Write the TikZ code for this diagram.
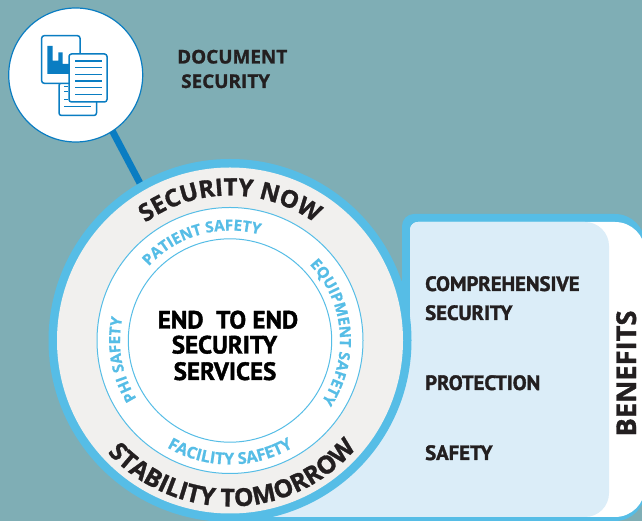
\documentclass[tikz,border=0pt]{standalone}
\usepackage{fontspec}
\setmainfont{Open Sans}
\newfontfamily\condb{PT Sans Bold}[FakeBold=1.6]
\newfontfamily\openb{Open Sans Bold}[FakeBold=1.2]
\newfontfamily\openc{Open Sans Bold}[FakeBold=0.8]
\usetikzlibrary{decorations.text}
\definecolor{bgteal}{HTML}{7FAEB5}
\definecolor{ringblue}{HTML}{56BDE6}
\definecolor{panellight}{HTML}{DBEDF8}
\definecolor{darkblue}{HTML}{0A7DC2}
\definecolor{ringgrey}{HTML}{F1F0EE}
\definecolor{inkdark}{HTML}{231F20}
\tikzset{
  x=1pt,y=1pt,
  label/.style={inner sep=0pt,anchor=base west,text=inkdark,font=\condb\fontsize{20.7}{21}\selectfont},
  heading/.style={inner sep=0pt,anchor=base west,text=inkdark,font=\openb\fontsize{18.9}{19}\selectfont},
  core/.style={inner sep=0pt,anchor=base,text=black,font=\condb\fontsize{25}{25}\selectfont},
  sheet/.style={draw=darkblue,line width=1.5pt,fill=white,rounded corners=2.5pt},
  sheetline/.style={draw=darkblue,line width=1.5pt},
  curved/.style={decorate,decoration={text along path,text align=center,text={#1}}}
}
\def\bigfont{\openb\fontsize{24}{24}\selectfont\color{inkdark}}
\def\stabfont{\openb\fontsize{24.7}{24.7}\selectfont\color{inkdark}}
\def\smallfont{\openc\fontsize{15.2}{15.2}\selectfont\color{ringblue}}
\def\facfont{\openc\fontsize{16.3}{16.3}\selectfont\color{ringblue}}
\begin{document}
\begin{tikzpicture}
\useasboundingbox (0,0) rectangle (642,521);
\fill[bgteal] (0,0) rectangle (642,521);
\coordinate (c) at (230,180.5);
\coordinate (s) at (75.7,446);
\coordinate (linkstart) at (96.5,420);
\coordinate (linkend) at (223,181);
% panel
\begin{scope}
\clip (0,0) rectangle (642,521);
\fill[ringblue] (402,240) [rounded corners=12pt] -- (402,307) [rounded corners=30pt] -- (645,307) -- (645,0) [sharp corners] -- (250,0) -- (250,240) -- cycle;
\fill[white] (410,181) [rounded corners=8pt] -- (410,299) [rounded corners=30pt] -- (645,299) -- (645,4) [sharp corners] -- (250,4) -- (250,181) -- cycle;
\fill[panellight] (410,181) [rounded corners=8pt] -- (410,299) [rounded corners=24pt] -- (609,299) -- (609,4) [sharp corners] -- (250,4) -- (250,181) -- cycle;
\end{scope}
% connector
\draw[darkblue,line width=6.8pt] (linkstart) -- (linkend);
% main rings
\fill[ringblue] (c) circle (181.5);
\fill[ringgrey] (c) circle (173);
\draw[ringblue,fill=white,line width=1pt] (c) circle (133);
\draw[ringblue,line width=1pt] (c) circle (101.7);
% small circle
\node[circle,draw=darkblue,fill=white,line width=1.2pt,minimum size=134pt,inner sep=0pt] (sc) at (s) {};
% icon
\draw[sheet] (59,405.5) rectangle (96.5,438);
\draw[sheetline] (64,434.3) -- (68,434.3) (64,429.3) -- (68,429.3) (64,421.5) -- (68,421.5) (64,414.3) -- (91,414.3);
\draw[sheet] (41.7,437.7) rectangle (80,485.3);
\fill[darkblue] (47.3,447) -- (47.3,475) -- (52.7,475) -- (52.7,460.3) -- (58.3,460.3) -- (58.3,468.5) -- (62.7,468.5) -- (62.7,457) -- (70,457) -- (70,447) -- cycle;
\draw[sheet] (69,419) rectangle (107,467);
\foreach \yy in {460,453.3,446.7,440,433.3,426.7}{\draw[sheetline] (75,\yy) -- (101.7,\yy);}
% curved texts
\path[curved={|\bigfont|SECURITY NOW}] (c) ++(135:145) arc (135:45:145);
\path[curved={|\stabfont|STABILITY TOMORROW}] (c) ++(212:166) arc (212:330:166);
\path[curved={|\smallfont|PATIENT SAFETY}] (c) ++(146:110) arc (146:66:110);
\path[curved={|\smallfont|EQUIPMENT SAFETY}] (c) ++(56:110) arc (56:-46:110);
\path[curved={|\smallfont|PHI SAFETY}] (c) ++(225:110) arc (225:155:110);
\path[curved={|\facfont|FACILITY SAFETY}] (c) ++(228:124) arc (228:312:124);
% center text
\node[core] (t1) at (228,192.5) {END\ \ TO END};
\node[core] (t2) at (224.5,167.5) {SECURITY};
\node[core] (t3) at (225,141) {SERVICES};
% labels
\node[heading] (h1) at (177,457.5) {DOCUMENT};
\node[heading] (h2) at (181,433) {SECURITY};
\node[label] (l1) at (425,230) {COMPREHENSIVE};
\node[label] (l2) at (425,201) {SECURITY};
\node[label] (l3) at (425,131) {PROTECTION};
\node[label] (l4) at (425,61) {SAFETY};
\node[inner sep=0pt,anchor=base,rotate=90,text=inkdark,font=\openb\fontsize{27.3}{27.3}\selectfont] (b) at (636,147.5) {BENEFITS};
\end{tikzpicture}
\end{document}
